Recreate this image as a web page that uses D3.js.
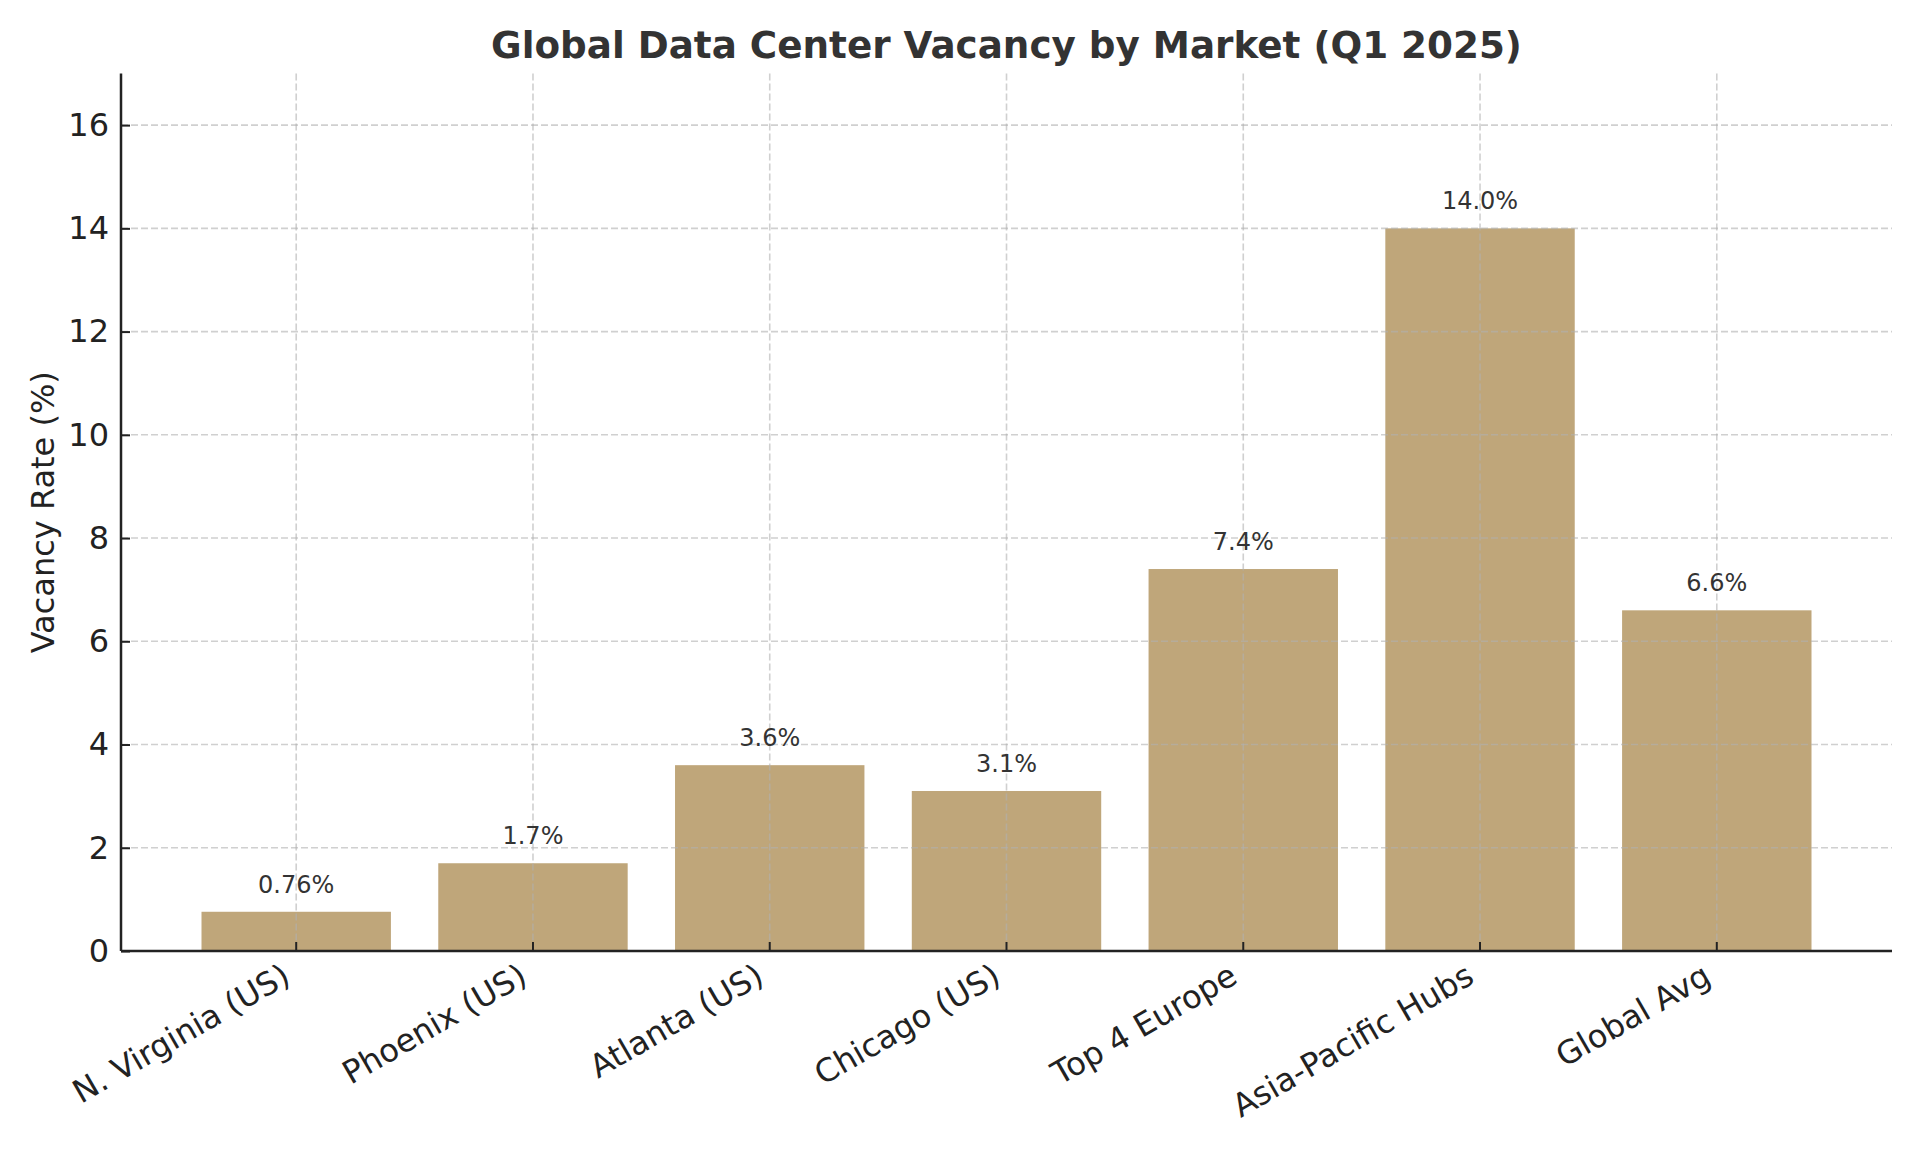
<!DOCTYPE html>
<html>
<head>
<meta charset="utf-8">
<script src="https://cdn.jsdelivr.net/npm/d3@7"></script>
<style>
  html, body { margin: 0; padding: 0; background: #fff; }
  svg { display: block; font-family: "DejaVu Sans", sans-serif; }
</style>
</head>
<body>
<svg id="chart" width="1920" height="1152"></svg>
<script>
const categories = ["N. Virginia (US)", "Phoenix (US)", "Atlanta (US)", "Chicago (US)", "Top 4 Europe", "Asia-Pacific Hubs", "Global Avg"];
const vacancy = [0.76, 1.7, 3.6, 3.1, 7.4, 14.0, 6.6];
const valueLabels = ["0.76%", "1.7%", "3.6%", "3.1%", "7.4%", "14.0%", "6.6%"];
const yTicks = [0, 2, 4, 6, 8, 10, 12, 14, 16];
const titleText = "Global Data Center Vacancy by Market (Q1 2025)";
const yLabelText = "Vacancy Rate (%)";

const W = 1920, H = 1152;
const m = { left: 121, right: 1892, top: 73.5, bottom: 951 };
const svg = d3.select("#chart");

const x = d3.scaleBand().domain(categories).range([m.left, m.right]).paddingInner(0.2).paddingOuter(0.34);
const y = d3.scaleLinear().domain([0, 17]).range([m.bottom, m.top]);

// bars
svg.append("g").selectAll("rect").data(categories).join("rect")
  .attr("x", d => x(d))
  .attr("width", x.bandwidth())
  .attr("y", (d, i) => y(vacancy[i]))
  .attr("height", (d, i) => y(0) - y(vacancy[i]))
  .attr("fill", "#bfa67a");

// grid (drawn above bars)
const grid = svg.append("g").attr("stroke", "#b0b0b0").attr("stroke-opacity", 0.6)
  .attr("stroke-width", 1.6).attr("stroke-dasharray", "7,3");
grid.selectAll("line.h").data(yTicks).join("line").attr("class", "h")
  .attr("x1", m.left).attr("x2", m.right)
  .attr("y1", d => y(d)).attr("y2", d => y(d));
grid.selectAll("line.v").data(categories).join("line").attr("class", "v")
  .attr("x1", d => x(d) + x.bandwidth() / 2).attr("x2", d => x(d) + x.bandwidth() / 2)
  .attr("y1", m.top).attr("y2", m.bottom);

// value labels
svg.append("g").selectAll("text").data(categories).join("text")
  .attr("x", d => x(d) + x.bandwidth() / 2)
  .attr("y", (d, i) => y(vacancy[i]) - 19)
  .attr("text-anchor", "middle")
  .attr("font-size", 24)
  .attr("fill", "#333")
  .text((d, i) => valueLabels[i]);

// y axis
const yAxis = d3.axisLeft(y).tickValues(yTicks).tickSize(-9).tickPadding(12).tickFormat(d3.format("d"));
const gy = svg.append("g").attr("transform", `translate(${m.left},0)`).call(yAxis);
gy.select(".domain").attr("stroke", "#222").attr("stroke-width", 2.5).attr("d", `M0,${m.bottom}V${m.top}`);
gy.selectAll(".tick line").attr("stroke", "#222").attr("stroke-width", 2);
gy.selectAll(".tick text").attr("font-size", 32).attr("fill", "#222").attr("font-family", "DejaVu Sans");

// x axis
const xAxis = d3.axisBottom(x).tickSize(-9).tickPadding(14);
const gx = svg.append("g").attr("transform", `translate(0,${m.bottom})`).call(xAxis);
gx.select(".domain").attr("stroke", "#222").attr("stroke-width", 2.5).attr("d", `M${m.left},0H${m.right}`);
gx.selectAll(".tick line").attr("stroke", "#222").attr("stroke-width", 2);
gx.selectAll(".tick text")
  .attr("font-size", 32).attr("fill", "#222").attr("font-family", "DejaVu Sans")
  .attr("text-anchor", "end")
  .attr("x", 0).attr("y", 0).attr("dy", 0)
  .attr("transform", "translate(-4,31) rotate(-30)");

// y label
svg.append("text")
  .attr("transform", `translate(54,${(m.top + m.bottom) / 2}) rotate(-90)`)
  .attr("text-anchor", "middle")
  .attr("font-size", 32).attr("fill", "#222")
  .text(yLabelText);

// title
svg.append("text")
  .attr("x", (m.left + m.right) / 2).attr("y", 58)
  .attr("text-anchor", "middle")
  .attr("font-size", 37.3).attr("font-weight", "bold").attr("fill", "#333")
  .text(titleText);
</script>
</body>
</html>
